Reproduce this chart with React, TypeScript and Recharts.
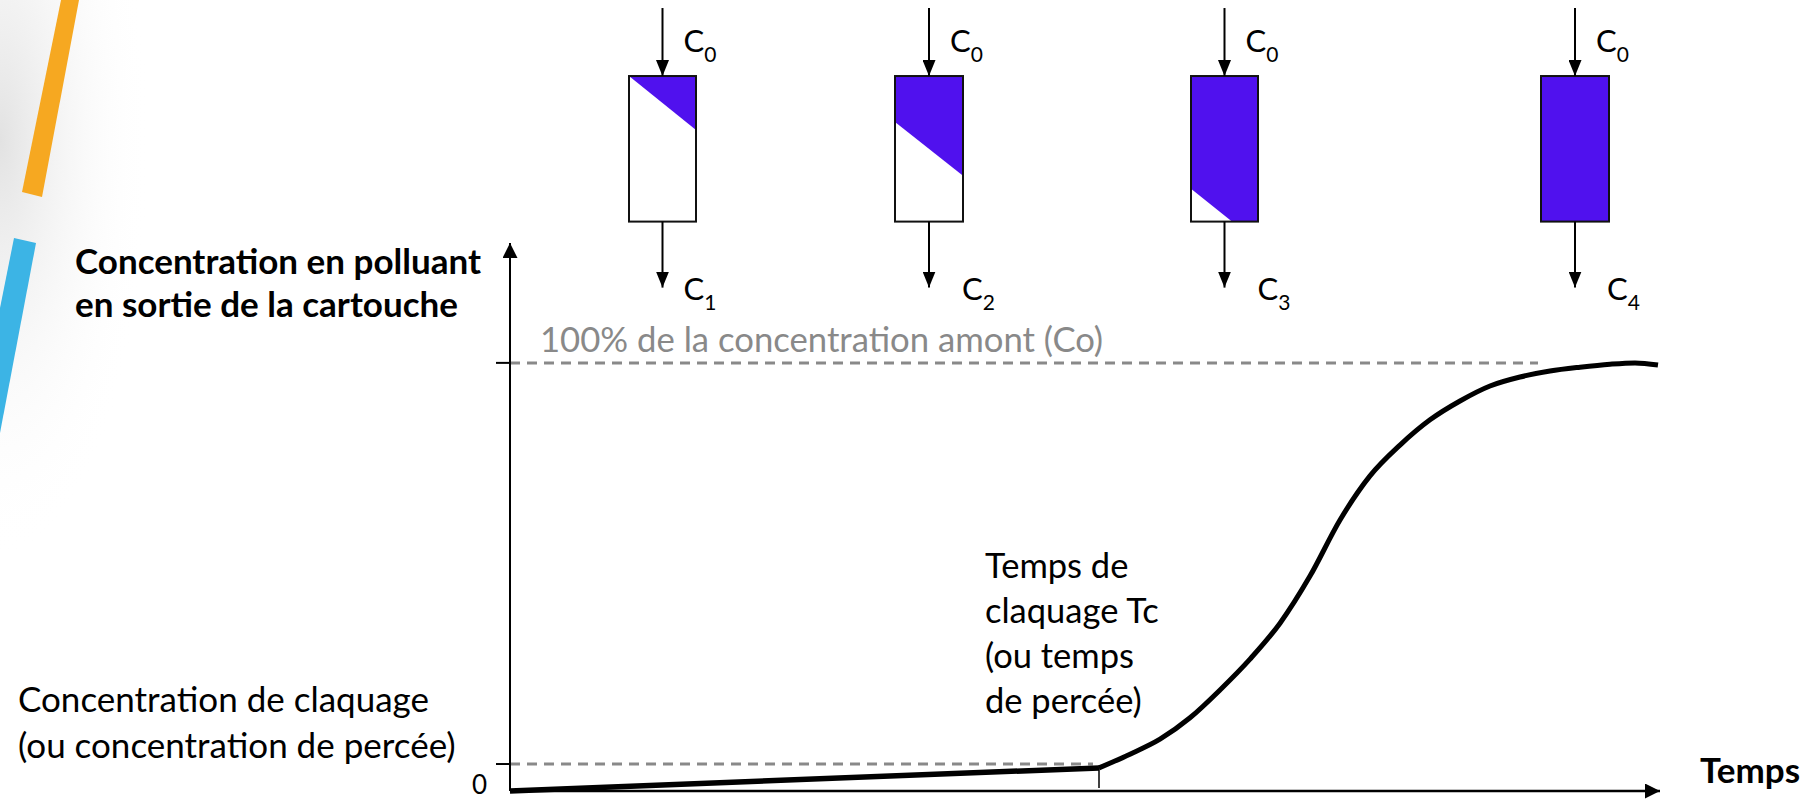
import React from "react";
import {
  LineChart,
  Line,
  XAxis,
  YAxis,
  ReferenceLine,
  ReferenceArea,
} from "recharts";

// Breakthrough curve — outlet concentration vs time, with cartridge sketches above.

const FONT = "Lato, sans-serif";
const PURPLE = "#5011EE";
const GREY = "#898989";

// slow leak before breakthrough (linear)
const baseTime = [0, 58.9];
const baseConc = [0, 5.4];

// S-shaped rise after breakthrough time
const riseTime = [58.9, 62, 65, 68, 71, 74, 77, 80, 83, 86, 89, 92, 95, 98, 101, 104, 107, 110, 112.5, 114.8];
const riseConc = [5.4, 8.6, 12.1, 17.1, 23.6, 30.8, 39.2, 50.2, 63.3, 73.6, 80.8, 86.7, 91.1, 94.6, 96.7, 98.1, 99.0, 99.7, 100, 99.5];

const fullLevel = 100;
const fullLineEnd = 102.8;
const breakLevel = 6.3;
const breakTime = 58.9;

// cartridges: time span, saturation front (fraction of height at left edge)
const cartStart = [11.9, 38.5, 68.1, 103.1];
const cartEnd = [18.6, 45.3, 74.8, 109.9];
const cartFront = [0, 0.315, 0.774, 1.0];
const cartOut = ["1", "2", "3", "4"];
const cartBottom = 133;
const cartTop = 167;
const outLabelDx = [21, 33, 33, 32];
const FRONT_SLOPE = 0.37;

const baseData = baseTime.map((t, i) => ({ t, c: baseConc[i] }));
const riseData = riseTime.map((t, i) => ({ t, c: riseConc[i] }));

function Cartridge(props: any) {
  const { x, y, width, height, front, idx } = props;
  const cx = x + width / 2;
  const pts: number[][] = [[0, 0], [1, 0]];
  const right = front + FRONT_SLOPE;
  if (right < 1) pts.push([1, right]);
  else {
    pts.push([1, 1]);
    pts.push([(1 - front) / FRONT_SLOPE, 1]);
  }
  pts.push([0, Math.min(front, 1)]);
  const poly = pts.map(([u, v]) => `${x + u * width},${y + v * height}`).join(" ");
  const bottom = y + height;
  return (
    <g>
      <rect x={x} y={y} width={width} height={height} fill="#fff" />
      <polygon points={poly} fill={PURPLE} />
      <rect x={x} y={y} width={width} height={height} fill="none" stroke="#111" strokeWidth={2} />
      <line x1={cx} y1={y - 68} x2={cx} y2={y} stroke="#000" strokeWidth={2} markerEnd="url(#smArrow)" />
      <line x1={cx} y1={bottom} x2={cx} y2={bottom + 66} stroke="#000" strokeWidth={2} markerEnd="url(#smArrow)" />
      <text x={cx + 21} y={y - 24} fontFamily={FONT} fontSize={31} fill="#000">
        C<tspan fontSize={21} dy={10}>0</tspan>
      </text>
      <text x={cx + outLabelDx[idx]} y={bottom + 78} fontFamily={FONT} fontSize={31} fill="#000">
        C<tspan fontSize={21} dy={10}>{cartOut[idx]}</tspan>
      </text>
    </g>
  );
}

function YTick(props: any) {
  const { x, y, payload } = props;
  if (payload.value === 0) {
    return (
      <text x={x - 9} y={y + 3} textAnchor="end" fontFamily={FONT} fontSize={26} fill="#000">
        0
      </text>
    );
  }
  return <line x1={x} x2={x + 14} y1={y} y2={y} stroke="#000" strokeWidth={2} />;
}

export default function App() {
  return (
    <div style={{ position: "absolute", left: 0, top: 0, width: 1801, height: 799, background: "#fff" }}>
      <svg width={1801} height={799} style={{ position: "absolute", left: 0, top: 0 }}>
        <defs>
          <radialGradient id="edgeFade" cx="0" cy="0.25" r="0.75">
            <stop offset="0" stopColor="#e2e2e2" />
            <stop offset="1" stopColor="#ffffff" stopOpacity={0} />
          </radialGradient>
        </defs>
        <rect x={0} y={0} width={200} height={560} fill="url(#edgeFade)" />
        <polygon points="61,0 79,0 42,197 22,192" fill="#F6A821" />
        <polygon points="14,238 36,243 0,433 0,308" fill="#3CB4E5" />
      </svg>

      <div style={{ position: "absolute", left: 0, top: 0 }}>
        <LineChart width={1801} height={799} margin={{ top: 243, right: 141, bottom: 0, left: 470 }}>
          <XAxis
            type="number"
            dataKey="t"
            domain={[0, 115]}
            height={8}
            tick={false}
            tickLine={false}
            axisLine={{ stroke: "#000", strokeWidth: 2.5, markerEnd: "url(#axArrow)" }}
          />
          <YAxis
            type="number"
            domain={[0, 128]}
            width={40}
            ticks={[0, breakLevel, fullLevel]}
            interval={0}
            tickSize={14}
            tickMargin={0}
            tickLine={false}
            tick={<YTick />}
            axisLine={{ stroke: "#000", strokeWidth: 2, markerStart: "url(#axArrow)" }}
          />
          <ReferenceLine
            segment={[{ x: 0, y: fullLevel }, { x: fullLineEnd, y: fullLevel }]}
            stroke={GREY}
            strokeWidth={3}
            strokeDasharray="10 7"
            ifOverflow="visible"
          />
          <ReferenceLine
            segment={[{ x: 0, y: breakLevel }, { x: breakTime - 0.6, y: breakLevel }]}
            stroke={GREY}
            strokeWidth={3}
            strokeDasharray="10 7"
            ifOverflow="visible"
          />
          <ReferenceLine
            segment={[{ x: breakTime, y: 0.7 }, { x: breakTime, y: baseConc[1] }]}
            stroke="#000"
            strokeWidth={1.5}
            ifOverflow="visible"
          />
          {cartStart.map((s, i) => (
            <ReferenceArea
              key={i}
              x1={s}
              x2={cartEnd[i]}
              y1={cartBottom}
              y2={cartTop}
              ifOverflow="visible"
              shape={(p: any) => <Cartridge {...p} front={cartFront[i]} idx={i} />}
            />
          ))}
          <Line
            data={baseData}
            dataKey="c"
            type="linear"
            stroke="#000"
            strokeWidth={5.5}
            dot={false}
            activeDot={false}
            isAnimationActive={false}
          />
          <Line
            data={riseData}
            dataKey="c"
            type="monotone"
            stroke="#000"
            strokeWidth={5}
            dot={false}
            activeDot={false}
            isAnimationActive={false}
          />
        </LineChart>
      </div>

      <svg width={1801} height={799} style={{ position: "absolute", left: 0, top: 0, pointerEvents: "none" }}>
        <defs>
          <marker id="axArrow" viewBox="0 0 15 15" refX={15} refY={7.5} markerWidth={15} markerHeight={15} markerUnits="userSpaceOnUse" orient="auto-start-reverse">
            <path d="M0,0 L15,7.5 L0,15 z" fill="#000" />
          </marker>
          <marker id="smArrow" viewBox="0 0 16 13" refX={16} refY={6.5} markerWidth={16} markerHeight={13} markerUnits="userSpaceOnUse" orient="auto">
            <path d="M0,0 L16,6.5 L0,13 z" fill="#000" />
          </marker>
        </defs>
        <g fontFamily={FONT} fill="#000">
          <text x={75} y={274} fontSize={35} fontWeight={700}>Concentration en polluant</text>
          <text x={75} y={317} fontSize={35} fontWeight={700}>en sortie de la cartouche</text>
          <text x={540} y={352} fontSize={34.7} fill={GREY}>100% de la concentration amont (Co)</text>
          <text x={985} y={578} fontSize={34.5}>Temps de</text>
          <text x={985} y={623} fontSize={34.5}>claquage Tc</text>
          <text x={985} y={668} fontSize={34.5}>(ou temps</text>
          <text x={985} y={713} fontSize={34.5}>de percée)</text>
          <text x={18} y={712} fontSize={35}>Concentration de claquage</text>
          <text x={18} y={758} fontSize={35}>(ou concentration de percée)</text>
          <text x={1700} y={783} fontSize={35} fontWeight={700}>Temps</text>
        </g>
      </svg>
    </div>
  );
}
